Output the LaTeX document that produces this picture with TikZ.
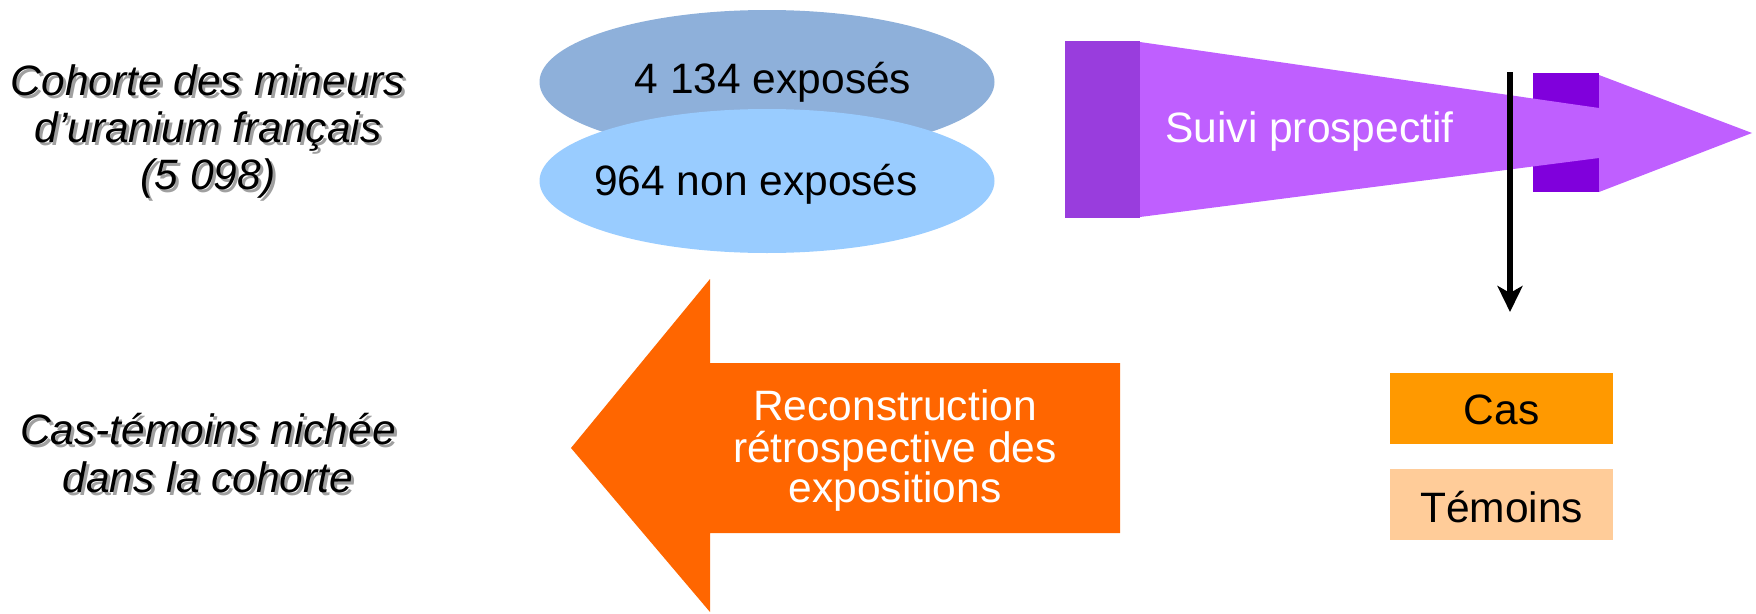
\documentclass[tikz,border=0pt]{standalone}
\usepackage{fontspec}
\setmainfont{Liberation Sans}
\usetikzlibrary{shapes.geometric,arrows.meta}
\definecolor{ellAcol}{RGB}{142,176,218}
\definecolor{ellBcol}{RGB}{153,204,255}
\definecolor{purpbody}{RGB}{191,95,255}
\definecolor{purpdark}{RGB}{153,61,221}
\definecolor{purpsq}{RGB}{128,0,220}
\definecolor{orangearr}{RGB}{255,102,0}
\definecolor{casfill}{RGB}{255,153,0}
\definecolor{temfill}{RGB}{255,204,153}
\definecolor{shadowcol}{RGB}{160,160,160}
\begin{document}
\begin{tikzpicture}[x=1pt,y=-1pt,
  txt/.style={font=\fontsize{42.5}{47}\selectfont, inner sep=0pt, anchor=base},
  ittxt/.style={txt, font=\fontsize{42.5}{47}\selectfont\itshape},
  shadowtxt/.style={ittxt, text=shadowcol},
  whitetxt/.style={txt, text=white},
  blob/.style={ellipse, draw=none, minimum width=455pt, minimum height=144pt, inner sep=0pt},
  flatbox/.style={rectangle, draw=none, inner sep=0pt, minimum width=223pt, minimum height=71pt}]
\useasboundingbox (0,0) rectangle (1756,613);

% ---------- left labels with shadow ----------
\foreach \t/\yy/\n in {{Cohorte des mineurs}/95/a, {d’uranium français}/142/b, {(5 098)}/189/c, {Cas-témoins nichée}/444/d, {dans la cohorte}/492/e} {
  \node[shadowtxt] (sh\n) at (211,\yy+3) {\t};
  \node[ittxt] (lab\n) at (208,\yy) {\t};
}

% ---------- ellipses ----------
\node[blob, fill=ellAcol] (expA) at (767,82) {};
\node[txt] (expAtxt) at (773,93) {4 134 exposés};
\node[blob, fill=ellBcol] (expB) at (767,181) {};
\node[txt] (expBtxt) at (756,195) {964 non exposés};

% ---------- purple arrow (suivi prospectif) ----------
\fill[purpdark] (1065,41) rectangle (1140,218);
\fill[purpsq] (1533,73) rectangle (1599,108);
\fill[purpsq] (1533,158) rectangle (1599,192);
\fill[purpbody] (1140,42) -- (1599,108) -- (1599,75) -- (1752,133) -- (1599,192) -- (1599,158) -- (1140,217) -- cycle;
\node[whitetxt] (suivi) at (1309.5,142) {Suivi prospectif};

% ---------- black arrow ----------
\coordinate (downA) at (1510,72);
\coordinate (downB) at (1510,312);
\draw[line width=6.5pt, -{Stealth[length=26pt, width=25pt, inset=7pt]}] (downA) -- (downB);

% ---------- orange arrow ----------
\fill[orangearr] (571,448) -- (710,279) -- (710,363) -- (1120,363) -- (1120,533) -- (710,533) -- (710,612) -- cycle;
\node[whitetxt] (rec1) at (895,420) {Reconstruction};
\node[whitetxt] (rec2) at (895,462) {rétrospective des};
\node[whitetxt] (rec3) at (895,502) {expositions};

% ---------- cas / témoins ----------
\node[flatbox, fill=casfill] (cas) at (1501.5,408) {};
\node[txt] (castxt) at (1501.5,424) {Cas};
\node[flatbox, fill=temfill] (tem) at (1501.5,504.5) {};
\node[txt] (temtxt) at (1501.5,522) {Témoins};
\end{tikzpicture}
\end{document}
